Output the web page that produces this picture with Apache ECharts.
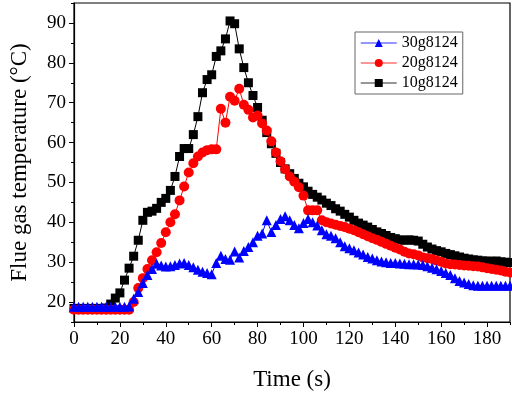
<!DOCTYPE html>
<html>
<head>
<meta charset="utf-8">
<script src="https://cdn.jsdelivr.net/npm/echarts@6/dist/echarts.min.js"></script>
<style>
  html, body { margin: 0; padding: 0; background: #fff; }
  #main { width: 512px; height: 396px; }
</style>
</head>
<body>
<div id="main"></div>
<script>
// sample times (s)
var times = [
  0, 2, 4, 6, 8, 10, 12, 14, 16, 18,
  20, 22, 24, 26, 28, 30, 32, 34, 36, 38,
  40, 42, 44, 46, 48, 50, 52, 54, 56, 58,
  60, 62, 64, 66, 68, 70, 72, 74, 76, 78,
  80, 82, 84, 86, 88, 90, 92, 94, 96, 98,
  100, 102, 104, 106, 108, 110, 112, 114, 116, 118,
  120, 122, 124, 126, 128, 130, 132, 134, 136, 138,
  140, 142, 144, 146, 148, 150, 152, 154, 156, 158,
  160, 162, 164, 166, 168, 170, 172, 174, 176, 178,
  180, 182, 184, 186, 188, 190
]
// 10g8124
var temp10 = [
  18.4, 18.4, 18.4, 18.4, 18.4, 18.4, 18.4, 18.5, 19.5, 21.0,
  22.3, 25.5, 28.5, 31.5, 35.5, 40.5, 42.5, 42.8, 43.5, 45.0,
  46.0, 48.0, 51.5, 56.5, 58.5, 58.5, 62.0, 66.5, 72.5, 75.8,
  77.0, 81.6, 83.0, 86.0, 90.5, 89.8, 83.5, 78.8, 75.0, 71.8,
  68.8, 65.6, 62.5, 59.7, 57.3, 55.0, 53.4, 52.2, 51.0, 49.8,
  48.9, 47.8, 47.0, 46.3, 45.6, 44.8, 44.2, 43.4, 42.8, 42.0,
  41.3, 40.5, 39.8, 39.3, 38.8, 38.2, 37.6, 37.2, 36.7, 36.2,
  35.9, 35.6, 35.5, 35.6, 35.5, 35.3, 34.5, 33.8, 33.3, 32.9,
  32.6, 32.2, 31.9, 31.6, 31.3, 31.0, 30.8, 30.6, 30.5, 30.3,
  30.3, 30.2, 30.3, 30.1, 30.0, 29.9
]
// 20g8124
var temp20 = [
  18.1, 18.1, 18.1, 18.1, 18.1, 18.1, 18.1, 18.1, 18.1, 18.1,
  18.1, 18.1, 18.1, 20.0, 23.5, 26.0, 28.3, 30.5, 32.5, 34.8,
  37.5, 40.0, 42.0, 45.5, 49.0, 52.5, 54.8, 56.5, 57.5, 58.1,
  58.3, 58.3, 68.5, 65.0, 71.5, 70.5, 73.5, 69.5, 68.2, 66.3,
  66.8, 64.8, 63.0, 60.3, 57.5, 55.3, 53.3, 51.5, 50.2, 48.8,
  46.7, 43.0, 43.0, 43.0, 40.5, 40.0, 39.7, 39.4, 39.1, 38.8,
  38.4, 38.0, 37.5, 37.0, 36.5, 36.0, 35.6, 35.1, 34.6, 34.1,
  33.6, 33.2, 32.6, 32.2, 32.0, 31.7, 31.2, 31.0, 30.8, 30.4,
  30.1, 29.7, 29.5, 29.4, 29.3, 29.2, 29.1, 29.0, 28.9, 28.7,
  28.5, 28.3, 28.1, 27.9, 27.6, 27.4
]
// 30g8124
var temp30 = [
  18.8, 18.8, 18.8, 18.8, 18.8, 18.8, 18.8, 18.8, 18.8, 18.8,
  18.8, 18.8, 18.9, 20.8, 22.5, 24.8, 26.8, 28.3, 29.6, 29.2,
  28.9, 29.0, 29.3, 29.7, 29.8, 29.3, 28.7, 28.1, 27.6, 27.3,
  27.0, 29.8, 31.6, 30.8, 30.6, 32.7, 31.2, 32.8, 33.8, 35.0,
  36.6, 37.2, 40.5, 37.6, 39.3, 40.8, 41.5, 40.5, 39.3, 38.5,
  39.8, 40.8, 40.0, 39.2, 38.0, 37.0, 36.6, 36.0, 35.0, 34.0,
  33.5, 33.0, 32.4, 31.9, 31.3, 30.9, 30.5, 30.2, 30.0, 29.8,
  29.8, 29.7, 29.6, 29.5, 29.5, 29.4, 29.3, 29.0, 28.6, 28.2,
  27.8, 27.3, 26.8, 26.0, 25.3, 24.9, 24.5, 24.2, 24.1, 24.1,
  24.1, 24.1, 24.1, 24.1, 24.1, 24.1
]
var xTicks = [0, 20, 40, 60, 80, 100, 120, 140, 160, 180]
var yTicks = [20, 30, 40, 50, 60, 70, 80, 90]
var legendNames = ['30g8124', '20g8124', '10g8124']

var font = 'Liberation Serif'

function pairs(vals) {
  let out = []
  for (let i = 0; i < times.length; i++) {
    out.push([times[i], vals[i]])
  }
  return out
}

var chart = echarts.init(document.getElementById('main'), null, {renderer: 'canvas'})

var option = {
  animation: false,
  grid: {
    left: 67,
    right: 2,
    top: 3,
    bottom: 71,
    show: true,
    borderColor: '#000',
    borderWidth: 1.2
  },
  legend: {
    data: legendNames,
    orient: 'vertical',
    left: 355,
    top: 32,
    padding: [3, 5, 3, 5],
    itemGap: 4,
    itemWidth: 36,
    itemHeight: 10,
    borderColor: '#666',
    borderWidth: 1,
    lineStyle: { width: 1.5, opacity: 0.55 },
    textStyle: { fontFamily: font, fontSize: 16, color: '#000' }
  },
  xAxis: [
    {
      type: 'value',
      position: 'bottom',
      min: 0,
      max: 190,
      name: 'Time (s)',
      nameLocation: 'middle',
      nameGap: 46,
      nameTextStyle: { fontFamily: font, fontSize: 23, color: '#000' },
      splitLine: { show: false },
      axisLine: { lineStyle: { color: '#000', width: 1.2 } },
      axisTick: { customValues: xTicks, length: 5, lineStyle: { color: '#000' } },
      axisLabel: { customValues: xTicks, margin: 8, fontFamily: font, fontSize: 19, color: '#000' }
    },
    {
      type: 'value',
      position: 'bottom',
      min: 0,
      max: 190,
      interval: 10,
      splitLine: { show: false },
      axisLine: { show: false },
      axisTick: { length: 3, lineStyle: { color: '#000' } },
      axisLabel: { show: false }
    }
  ],
  yAxis: [
    {
      type: 'value',
      position: 'left',
      min: 15,
      max: 95,
      name: 'Flue gas temperature (°C)',
      nameLocation: 'middle',
      nameGap: 43,
      nameTextStyle: { fontFamily: font, fontSize: 23, color: '#000' },
      splitLine: { show: false },
      axisLine: { lineStyle: { color: '#000', width: 1.2 } },
      axisTick: { customValues: yTicks, length: 5, lineStyle: { color: '#000' } },
      axisLabel: { customValues: yTicks, margin: 8, fontFamily: font, fontSize: 19, color: '#000' }
    },
    {
      type: 'value',
      position: 'left',
      min: 15,
      max: 95,
      interval: 5,
      splitLine: { show: false },
      axisLine: { show: false },
      axisTick: { length: 3, lineStyle: { color: '#000' } },
      axisLabel: { show: false }
    }
  ],
  series: [
    {
      name: '10g8124',
      type: 'line',
      data: pairs(temp10),
      symbol: 'rect',
      symbolSize: 9,
      color: '#000000',
      lineStyle: { width: 1, color: '#000' },
      z: 2
    },
    {
      name: '20g8124',
      type: 'line',
      data: pairs(temp20),
      symbol: 'circle',
      symbolSize: 10,
      color: '#ff0000',
      lineStyle: { width: 1, color: '#ff0000' },
      z: 3
    },
    {
      name: '30g8124',
      type: 'line',
      data: pairs(temp30),
      symbol: 'triangle',
      symbolSize: 10,
      color: '#0000ff',
      lineStyle: { width: 1, color: '#0000ff' },
      z: 4
    }
  ]
}
chart.setOption(option)
</script>
</body>
</html>
